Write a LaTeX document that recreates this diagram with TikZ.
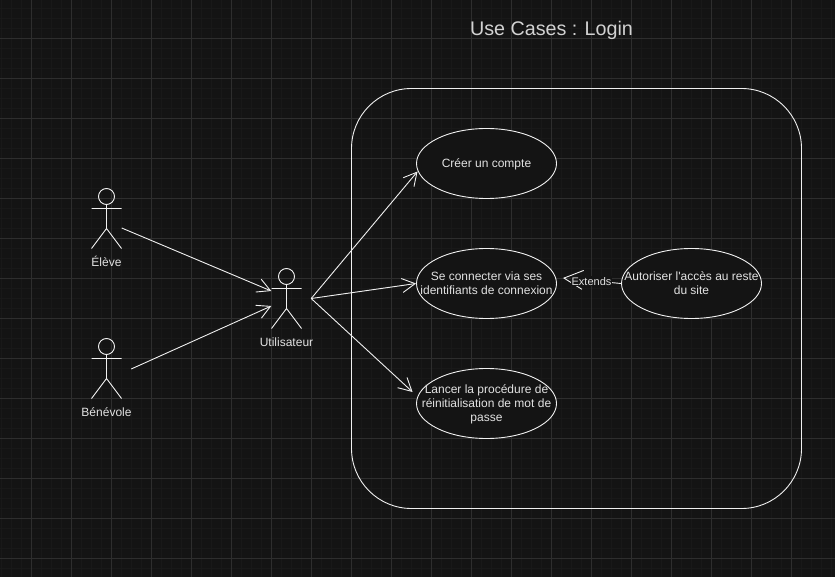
\documentclass[tikz,border=0pt]{standalone}
\usepackage{fontspec}
\setmainfont{Liberation Sans}
\usetikzlibrary{arrows.meta,positioning,shapes.geometric}

\definecolor{canvas}{HTML}{141414}
\definecolor{minorgrid}{HTML}{191919}
\definecolor{majorgrid}{HTML}{2E2E2E}
\definecolor{ink}{HTML}{F0F0F0}
\definecolor{labelink}{HTML}{E2E2E2}
\definecolor{titleink}{HTML}{D2D2D2}

% keeps the text from widening the ellipse
\newcommand{\uctext}[1]{\makebox[0pt]{\raisebox{-1pt}[\height][\depth]{\begin{tabular}{@{}c@{}}#1\end{tabular}}}}

\begin{document}
\begin{tikzpicture}[
        x=1pt, y=-1pt,
        every node/.style={color=labelink, font=\fontsize{12}{14}\selectfont},
        assoc/.style={ink, line width=.9pt, -{Straight Barb[length=13pt,width=14pt]}},
        extend line/.style={ink, line width=.9pt, dash pattern=on 12pt off 16pt,
            -{Straight Barb[length=19pt,width=19pt]}},
        actor/.style={minimum width=30pt, minimum height=60pt, inner sep=0pt},
        actor line/.style={ink, line width=.9pt},
        actor text/.style={text height=9pt, text depth=3pt},
        usecase/.style={draw=ink, fill=canvas, ellipse, line width=.9pt,
            minimum width=140pt, minimum height=70pt, inner sep=0pt},
    ]
    \useasboundingbox (0,0) rectangle (835,577);
    \fill[canvas] (0,0) rectangle (835,577);

    % grid
    \foreach \gx in {1.5,11.5,...,831.5}
        \draw[minorgrid, line width=.8pt] (\gx,0) -- (\gx,577);
    \foreach \gy in {8.5,18.5,...,568.5}
        \draw[minorgrid, line width=.8pt] (0,\gy) -- (835,\gy);
    \foreach \gx in {31.5,71.5,...,791.5}
        \draw[majorgrid, line width=.8pt] (\gx,0) -- (\gx,577);
    \foreach \gy in {38.5,78.5,...,558.5}
        \draw[majorgrid, line width=.8pt] (0,\gy) -- (835,\gy);

    % title
    \node[titleink] (title) at (551.5,30) {\fontsize{19.7}{24}\selectfont Use Cases : Login};

    % system
    \node[draw=ink, line width=.9pt, rounded corners=60pt, minimum width=450pt,
        minimum height=420pt, inner sep=0pt] (system) at (576.5,298.5) {};

    % actors
    \foreach \name/\cx/\cy/\txt in {eleve/106.5/218.5/Élève,
                                    benevole/106.5/368.5/Bénévole,
                                    user/286.5/298.5/Utilisateur} {
        \node[actor] (\name) at (\cx,\cy) {};
        \node[below=5pt of \name, actor text] (\name-text) {\txt};
        \begin{scope}[shift={(\cx,\cy)}]
            \draw[actor line] (0,-22) circle (8pt);
            \draw[actor line] (0,-14) -- (0,10) (-15,-10) -- (15,-10)
                (-15,30) -- (0,10) -- (15,30);
        \end{scope}
    }

    % use cases
    \node[usecase] (create) at (486.5,163.5) {\uctext{Créer un compte}};
    \node[usecase] (login) at (486.5,283.5) {\uctext{Se connecter via ses\\identifiants de connexion}};
    \node[usecase] (reset) at (486.5,403.5) {\uctext{Lancer la procédure de\\réinitialisation de mot de\\passe}};
    \node[usecase] (access) at (691.5,283.5) {\uctext{Autoriser l\textquotesingle accès au reste\\du site}};

    % links
    \draw[assoc] ([yshift=-9.5pt]eleve.east) -- ([yshift=7.5pt]user.west);
    \draw[assoc] ([xshift=9.5pt,yshift=-.5pt]benevole.east) -- ([yshift=-7.5pt]user.west);
    \draw[assoc] ([xshift=9.5pt]user.east) -- ([xshift=1.5pt,yshift=-8pt]create.west);
    \draw[assoc] ([xshift=9.5pt]user.east) -- (login.west);
    \draw[assoc] ([xshift=9.5pt]user.east) -- ([xshift=-3.5pt,yshift=11.5pt]reset.west);

    % extends
    \draw[extend line] (access.west) -- ([xshift=6pt,yshift=5.5pt]login.east)
        node[midway, fill=canvas, inner sep=1pt, xshift=-.5pt, yshift=-.5pt,
            font=\fontsize{11}{13}\selectfont] (extends) {Extends};
\end{tikzpicture}
\end{document}
